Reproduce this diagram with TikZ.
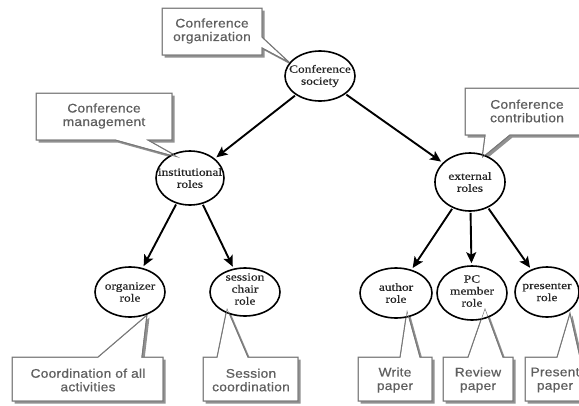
\documentclass[tikz,border=0pt]{standalone}
\usepackage{fontspec}
\setmainfont{Liberation Serif}
\newfontfamily\callfont[FakeStretch=1.1,LetterSpace=2,FakeBold=0.6]{Liberation Sans}
\newfontfamily\ellfont[FakeStretch=1.22,FakeBold=0.5]{Liberation Serif}
\usetikzlibrary{arrows.meta,shapes.geometric}
\definecolor{boxgray}{RGB}{120,120,120}
\definecolor{shadowgray}{RGB}{145,145,145}
\definecolor{textgray}{RGB}{95,95,95}
\tikzset{
  roleell/.style={ellipse, draw=black, line width=1.6pt, inner sep=0pt},
  roletext/.style={align=center, text=black!85, font=\ellfont\fontsize{11}{12}\selectfont, inner sep=0pt},
  callbox/.style={draw=boxgray, fill=white, line width=1pt, line join=miter},
  callshadow/.style={fill=shadowgray, draw=none},
  calltext/.style={align=center, text=textgray, font=\callfont\fontsize{12.5}{13.5}\selectfont, inner sep=0pt},
  rel/.style={line width=1.9pt, -{Stealth[length=11pt,width=10pt,inset=2.5pt]}, shorten <=1pt, shorten >=2pt}
}
\begin{document}
\begin{tikzpicture}[x=1pt,y=-1pt]
\useasboundingbox (0,0) rectangle (579,405);
\begin{scope}
\clip (0,0) rectangle (579,405);
% callouts: shadows then boxes
\def\cA{(162,8) -- (262,8) -- (262,37) -- (290,63) -- (262,48) -- (262,55) -- (162,55) -- cycle}
\def\cB{(36,93) -- (172,93) -- (172,140) -- (148,140) -- (180,158) -- (115,140) -- (36,140) -- cycle}
\def\cC{(465,88) -- (590,88) -- (590,135) -- (510,135) -- (482,158) -- (485,135) -- (465,135) -- cycle}
\def\cD{(12,357) -- (98,357) -- (147,315) -- (142,357) -- (163,357) -- (163,401) -- (12,401) -- cycle}
\def\cE{(203,357) -- (217,357) -- (227,308) -- (248,357) -- (298,357) -- (298,401) -- (203,401) -- cycle}
\def\cF{(358,357) -- (400,357) -- (407,310) -- (420,357) -- (432,357) -- (432,401) -- (358,401) -- cycle}
\def\cG{(443,357) -- (468,357) -- (485,308) -- (503,357) -- (513,357) -- (513,401) -- (443,401) -- cycle}
\def\cH{(525,357) -- (557,357) -- (570,313) -- (580,357) -- (600,357) -- (600,401) -- (525,401) -- cycle}
\foreach \p in {\cA,\cB,\cC,\cD,\cE,\cF,\cG,\cH}{
  \fill[callshadow, shift={(2.5,2.5)}] \p;
}
\foreach \p in {\cA,\cB,\cC,\cD,\cE,\cF,\cG,\cH}{
  \draw[callbox] \p;
}
\node[calltext] (tA) at (212,31) {Conference\\organization};
\node[calltext] (tB) at (104,116) {Conference\\management};
\node[calltext] (tC) at (527,111) {Conference\\contribution};
\node[calltext] (tD) at (88,380) {Coordination of all\\activities};
\node[calltext] (tE) at (251,380) {Session\\coordination};
\node[calltext] (tF) at (395,380) {Write\\paper};
\node[calltext] (tG) at (478,380) {Review\\paper};
\node[calltext] (tH) at (555,380) {Present\\paper};
% role ellipses
\node[roleell, minimum width=70pt, minimum height=50pt, fill=white] (soc) at (320,76) {};
\node[roleell, minimum width=68pt, minimum height=54pt, fill=white] (inst) at (190,178) {};
\node[roleell, minimum width=70pt, minimum height=58pt, fill=white] (ext) at (470,182) {};
\node[roleell, minimum width=70pt, minimum height=50pt, fill=white] (org) at (130,292) {};
\node[roleell, minimum width=70pt, minimum height=48pt, fill=white] (sess) at (245,292) {};
\node[roleell, minimum width=72pt, minimum height=50pt, fill=white] (auth) at (396,293) {};
\node[roleell, minimum width=70pt, minimum height=54pt, fill=white] (pc) at (472,293) {};
\node[roleell, minimum width=64pt, minimum height=50pt, fill=white] (pres) at (547,292) {};
% callout tips over ellipses
\foreach \p in {\cA,\cB,\cC,\cD,\cE,\cF,\cG,\cH}{
  \begin{scope}
  \clip \p;
  \draw[callbox, fill=none] \p;
  \end{scope}
}
\node[roletext] (lsoc) at (soc.center) {Conference\\society};
\node[roletext] (linst) at (inst.center) {institutional\\roles};
\node[roletext] (lext) at (ext.center) {external\\roles};
\node[roletext] (lorg) at (org.center) {organizer\\role};
\node[roletext] (lsess) at ([yshift=3pt]sess.center) {session\\chair\\role};
\node[roletext] (lauth) at (auth.center) {author\\role};
\node[roletext] (lpc) at ([yshift=2pt]pc.center) {PC\\member\\role};
\node[roletext] (lpres) at (pres.center) {presenter\\role};
% relations
\draw[rel] (soc) -- (inst);
\draw[rel] (soc) -- (ext);
\draw[rel] (inst) -- (org);
\draw[rel] (inst) -- (sess);
\draw[rel] (ext) -- (auth);
\draw[rel] (ext) -- (pc);
\draw[rel] (ext) -- (pres);
\end{scope}
\end{tikzpicture}
\end{document}
